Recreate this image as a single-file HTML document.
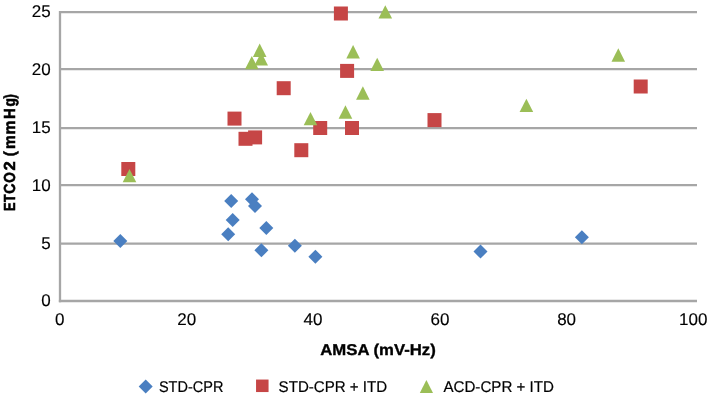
<!DOCTYPE html>
<html><head><meta charset="utf-8"><style>
html,body{margin:0;padding:0;background:#fff;width:709px;height:398px;overflow:hidden}
svg{display:block;font-family:'Liberation Sans',sans-serif;will-change:transform;text-rendering:geometricPrecision}
</style></head><body>
<svg width="709" height="398" viewBox="0 0 709 398" style="font-family:'Liberation Sans',sans-serif">
<line x1="60.0" y1="12.15" x2="697.0" y2="12.15" stroke="#a6a6a6" stroke-width="2.3"/>
<line x1="60.0" y1="69.2" x2="697.0" y2="69.2" stroke="#a6a6a6" stroke-width="2.3"/>
<line x1="60.0" y1="128.05" x2="697.0" y2="128.05" stroke="#a6a6a6" stroke-width="2.3"/>
<line x1="60.0" y1="185.2" x2="697.0" y2="185.2" stroke="#a6a6a6" stroke-width="2.3"/>
<line x1="60.0" y1="243.7" x2="697.0" y2="243.7" stroke="#a6a6a6" stroke-width="2.3"/>
<line x1="60.0" y1="11.0" x2="60.0" y2="302.15" stroke="#a6a6a6" stroke-width="2.3"/>
<line x1="58.85" y1="301.0" x2="697.0" y2="301.0" stroke="#a6a6a6" stroke-width="2.3"/>
<path d="M120.30 233.90L127.30 240.90L120.30 247.90L113.30 240.90Z" fill="#4a7fc1"/>
<path d="M231.20 194.10L238.20 201.10L231.20 208.10L224.20 201.10Z" fill="#4a7fc1"/>
<path d="M252.00 192.30L259.00 199.30L252.00 206.30L245.00 199.30Z" fill="#4a7fc1"/>
<path d="M255.00 198.90L262.00 205.90L255.00 212.90L248.00 205.90Z" fill="#4a7fc1"/>
<path d="M232.70 212.90L239.70 219.90L232.70 226.90L225.70 219.90Z" fill="#4a7fc1"/>
<path d="M228.20 227.30L235.20 234.30L228.20 241.30L221.20 234.30Z" fill="#4a7fc1"/>
<path d="M266.30 221.00L273.30 228.00L266.30 235.00L259.30 228.00Z" fill="#4a7fc1"/>
<path d="M261.40 243.30L268.40 250.30L261.40 257.30L254.40 250.30Z" fill="#4a7fc1"/>
<path d="M294.90 238.70L301.90 245.70L294.90 252.70L287.90 245.70Z" fill="#4a7fc1"/>
<path d="M315.40 249.70L322.40 256.70L315.40 263.70L308.40 256.70Z" fill="#4a7fc1"/>
<path d="M480.50 244.60L487.50 251.60L480.50 258.60L473.50 251.60Z" fill="#4a7fc1"/>
<path d="M581.90 230.20L588.90 237.20L581.90 244.20L574.90 237.20Z" fill="#4a7fc1"/>
<rect x="121.30" y="162.00" width="14.0" height="14.0" fill="#c64646"/>
<rect x="227.50" y="111.60" width="14.0" height="14.0" fill="#c64646"/>
<rect x="238.50" y="131.80" width="14.0" height="14.0" fill="#c64646"/>
<rect x="248.10" y="130.40" width="14.0" height="14.0" fill="#c64646"/>
<rect x="276.70" y="81.20" width="14.0" height="14.0" fill="#c64646"/>
<rect x="294.30" y="143.20" width="14.0" height="14.0" fill="#c64646"/>
<rect x="313.20" y="121.00" width="14.0" height="14.0" fill="#c64646"/>
<rect x="333.90" y="6.50" width="14.0" height="14.0" fill="#c64646"/>
<rect x="340.10" y="63.90" width="14.0" height="14.0" fill="#c64646"/>
<rect x="345.00" y="121.00" width="14.0" height="14.0" fill="#c64646"/>
<rect x="427.50" y="113.10" width="14.0" height="14.0" fill="#c64646"/>
<rect x="633.70" y="79.50" width="14.0" height="14.0" fill="#c64646"/>
<path d="M129.50 168.90L136.30 182.30L122.70 182.30Z" fill="#9bbe57"/>
<path d="M310.50 111.90L317.30 125.30L303.70 125.30Z" fill="#9bbe57"/>
<path d="M259.70 43.60L266.50 57.00L252.90 57.00Z" fill="#9bbe57"/>
<path d="M261.20 52.20L268.00 65.60L254.40 65.60Z" fill="#9bbe57"/>
<path d="M251.80 55.90L258.60 69.30L245.00 69.30Z" fill="#9bbe57"/>
<path d="M353.10 45.10L359.90 58.50L346.30 58.50Z" fill="#9bbe57"/>
<path d="M377.20 57.70L384.00 71.10L370.40 71.10Z" fill="#9bbe57"/>
<path d="M362.85 86.30L369.65 99.70L356.05 99.70Z" fill="#9bbe57"/>
<path d="M345.45 105.30L352.25 118.70L338.65 118.70Z" fill="#9bbe57"/>
<path d="M385.30 5.20L392.10 18.60L378.50 18.60Z" fill="#9bbe57"/>
<path d="M526.40 98.70L533.20 112.10L519.60 112.10Z" fill="#9bbe57"/>
<path d="M618.30 48.30L625.10 61.70L611.50 61.70Z" fill="#9bbe57"/>
<text x="50.6" y="17.2" text-anchor="end" font-size="17.0" fill="#000" stroke="#000" stroke-width="0.15">25</text>
<text x="50.6" y="75.1" text-anchor="end" font-size="17.0" fill="#000" stroke="#000" stroke-width="0.15">20</text>
<text x="50.6" y="132.6" text-anchor="end" font-size="17.0" fill="#000" stroke="#000" stroke-width="0.15">15</text>
<text x="50.6" y="190.5" text-anchor="end" font-size="17.0" fill="#000" stroke="#000" stroke-width="0.15">10</text>
<text x="50.6" y="248.6" text-anchor="end" font-size="17.0" fill="#000" stroke="#000" stroke-width="0.15">5</text>
<text x="50.6" y="306.3" text-anchor="end" font-size="17.0" fill="#000" stroke="#000" stroke-width="0.15">0</text>
<text x="59.65" y="325.4" text-anchor="middle" font-size="17.0" fill="#000" stroke="#000" stroke-width="0.15">0</text>
<text x="186.70" y="325.4" text-anchor="middle" font-size="17.0" fill="#000" stroke="#000" stroke-width="0.15">20</text>
<text x="313.00" y="325.4" text-anchor="middle" font-size="17.0" fill="#000" stroke="#000" stroke-width="0.15">40</text>
<text x="440.00" y="325.4" text-anchor="middle" font-size="17.0" fill="#000" stroke="#000" stroke-width="0.15">60</text>
<text x="566.60" y="325.4" text-anchor="middle" font-size="17.0" fill="#000" stroke="#000" stroke-width="0.15">80</text>
<text x="693.30" y="325.4" text-anchor="middle" font-size="17.0" fill="#000" stroke="#000" stroke-width="0.15">100</text>
<text x="378.0" y="354.6" text-anchor="middle" font-size="15.6" font-weight="bold" stroke="#000" stroke-width="0.35" textLength="115.5" lengthAdjust="spacingAndGlyphs">AMSA (mV-Hz)</text>
<g transform="translate(15.1,0) rotate(-90)" font-size="16" font-weight="bold" stroke="#000" stroke-width="0.55"><text transform="translate(-210.96,0) scale(0.802,1)" x="0" y="0">E</text><text transform="translate(-202.25,0) scale(0.817,1)" x="0" y="0">T</text><text transform="translate(-193.68,0) scale(0.889,1)" x="0" y="0">C</text><text transform="translate(-182.65,0) scale(0.846,1)" x="0" y="0">O</text><text transform="translate(-170.58,0) scale(1.039,1)" x="0" y="0">2</text><text transform="translate(-156.36,0) scale(0.952,1)" x="0" y="0">(</text><text transform="translate(-149.02,0) scale(0.969,1)" x="0" y="0">m</text><text transform="translate(-134.53,0) scale(0.977,1)" x="0" y="0">m</text><text transform="translate(-119.00,0) scale(0.936,1)" x="0" y="0">H</text><text transform="translate(-106.56,0) scale(0.857,1)" x="0" y="0">g</text><text transform="translate(-98.41,0) scale(0.842,1)" x="0" y="0">)</text></g>
<path d="M145.70 379.40L152.70 386.40L145.70 393.40L138.70 386.40Z" fill="#4a7fc1"/>
<text x="158.9" y="392" font-size="15.5" stroke="#000" stroke-width="0.2" textLength="64.5" lengthAdjust="spacingAndGlyphs">STD-CPR</text>
<rect x="256.05" y="379.55" width="12.5" height="12.5" fill="#c64646"/>
<text x="278.6" y="392" font-size="15.5" stroke="#000" stroke-width="0.2" textLength="108.6" lengthAdjust="spacingAndGlyphs">STD-CPR + ITD</text>
<path d="M426.40 379.90L433.00 393.10L419.80 393.10Z" fill="#9bbe57"/>
<text x="443.4" y="392" font-size="15.5" stroke="#000" stroke-width="0.2" textLength="110.6" lengthAdjust="spacingAndGlyphs">ACD-CPR + ITD</text>
</svg>
</body></html>
